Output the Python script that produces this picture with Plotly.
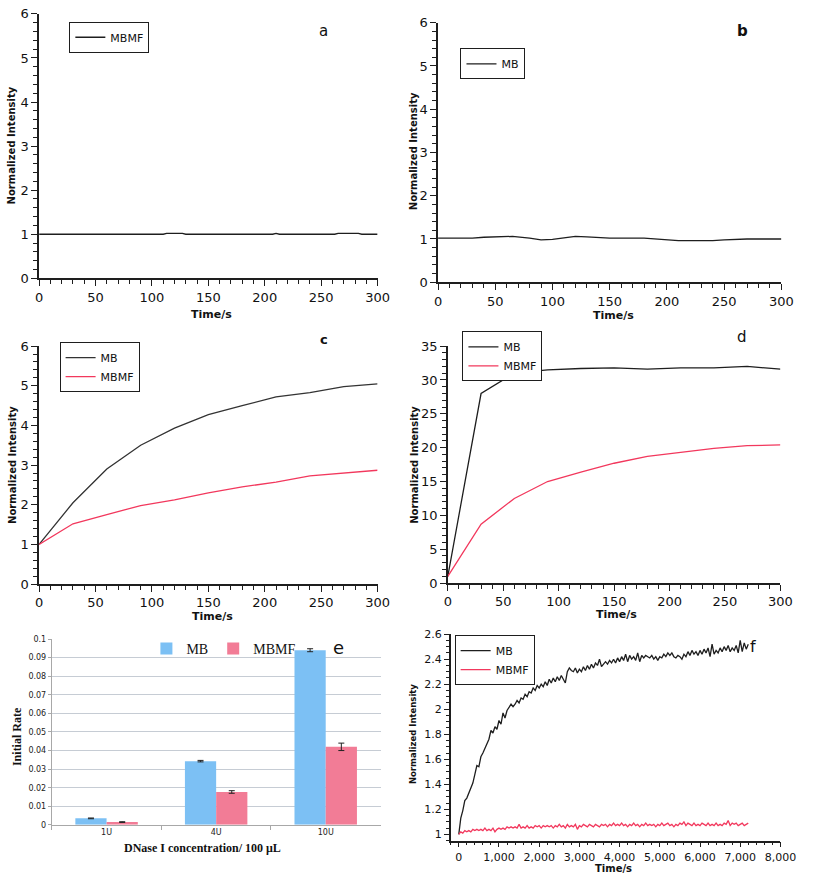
import plotly.graph_objects as go

W, H = 813, 883

# ---------------- data ----------------
# panel a
time_a = [0, 30, 60, 90, 110, 113, 127, 130, 160, 190, 207, 210, 213, 240, 262, 265, 283, 286, 300]
mbmf_a = [1.0, 1.0, 1.0, 1.0, 1.0, 1.02, 1.02, 1.0, 1.0, 1.0, 1.0, 1.02, 1.0, 1.0, 1.0, 1.02, 1.02, 1.0, 1.0]

# panel b
time_b = [0, 30, 40, 55, 65, 80, 90, 100, 110, 120, 130, 150, 180, 190, 200, 210, 240, 250, 270, 300]
mb_b = [1.02, 1.02, 1.04, 1.06, 1.06, 1.02, 0.98, 0.99, 1.02, 1.06, 1.05, 1.02, 1.02, 1.0, 0.98, 0.96, 0.96, 0.98, 1.0, 1.0]

# panel c
time_c = [0, 30, 60, 90, 120, 150, 180, 210, 240, 270, 300]
mb_c = [1.0, 2.05, 2.9, 3.5, 3.93, 4.27, 4.5, 4.72, 4.83, 4.98, 5.05]
mbmf_c = [1.0, 1.52, 1.75, 1.98, 2.12, 2.3, 2.45, 2.57, 2.73, 2.8, 2.87]

# panel d
time_d = [0, 30, 60, 90, 120, 150, 180, 210, 240, 270, 300]
mb_d = [1.0, 28.0, 31.0, 31.5, 31.7, 31.8, 31.6, 31.8, 31.8, 32.0, 31.6]
mbmf_d = [1.0, 8.7, 12.5, 15.0, 16.4, 17.7, 18.7, 19.3, 19.9, 20.3, 20.4]

# panel e
conc_e = ["1U", "4U", "10U"]
mb_e = [0.0035, 0.0343, 0.094]
mb_e_err = [0.0002, 0.0004, 0.0008]
mbmf_e = [0.0015, 0.0177, 0.042]
mbmf_e_err = [0.0002, 0.0007, 0.002]

# panel f (sampled every 50 s)
step_f = 50
mb_f = [
    1.00, 1.13, 1.19, 1.27, 1.29, 1.33, 1.37, 1.41, 1.48, 1.55,
    1.54, 1.62, 1.65, 1.69, 1.72, 1.76, 1.83, 1.81, 1.86, 1.84,
    1.91, 1.88, 1.97, 1.93, 1.99, 2.02, 2.04, 2.02, 2.04, 2.07,
    2.05, 2.09, 2.08, 2.12, 2.10, 2.14, 2.13, 2.17, 2.15, 2.19,
    2.17, 2.20, 2.18, 2.22, 2.19, 2.24, 2.21, 2.25, 2.22, 2.26,
    2.23, 2.27, 2.24, 2.21, 2.30, 2.33, 2.31, 2.30, 2.33, 2.29,
    2.32, 2.30, 2.34, 2.31, 2.35, 2.32, 2.36, 2.33, 2.37, 2.35,
    2.40, 2.34, 2.36, 2.38, 2.36, 2.39, 2.37, 2.40, 2.37, 2.41,
    2.38, 2.42, 2.39, 2.44, 2.38, 2.43, 2.40, 2.42, 2.39, 2.45,
    2.38, 2.43, 2.41, 2.43, 2.42, 2.41, 2.43, 2.40, 2.42, 2.39,
    2.42, 2.41, 2.44, 2.42, 2.45, 2.43, 2.45, 2.42, 2.41, 2.43,
    2.42, 2.40, 2.44, 2.42, 2.46, 2.43, 2.47, 2.44, 2.46, 2.43,
    2.47, 2.44, 2.48, 2.45, 2.49, 2.42, 2.52, 2.44, 2.47, 2.45,
    2.49, 2.46, 2.50, 2.47, 2.51, 2.46, 2.49, 2.47, 2.51, 2.45,
    2.55, 2.46, 2.53, 2.48, 2.52,
]
mbmf_f = [
    1.00, 1.02, 1.01, 1.03, 1.02, 1.03, 1.02, 1.04, 1.03, 1.04,
    1.03, 1.04, 1.03, 1.05, 1.03, 1.04, 1.03, 1.05, 1.02, 1.04,
    1.05, 1.04, 1.05, 1.04, 1.06, 1.05, 1.06, 1.05, 1.06, 1.05,
    1.08, 1.05, 1.06, 1.05, 1.07, 1.05, 1.06, 1.05, 1.07, 1.06,
    1.07, 1.05, 1.07, 1.06, 1.07, 1.06, 1.07, 1.05, 1.07, 1.06,
    1.08, 1.06, 1.07, 1.05, 1.08, 1.06, 1.07, 1.06, 1.08, 1.04,
    1.07, 1.06, 1.08, 1.07, 1.06, 1.08, 1.07, 1.06, 1.08, 1.07,
    1.06, 1.08, 1.07, 1.08, 1.06, 1.08, 1.07, 1.09, 1.07, 1.08,
    1.07, 1.09, 1.07, 1.08, 1.06, 1.08, 1.07, 1.09, 1.07, 1.08,
    1.06, 1.08, 1.07, 1.09, 1.07, 1.08, 1.07, 1.08, 1.06, 1.08,
    1.07, 1.09, 1.07, 1.08, 1.09, 1.07, 1.08, 1.06, 1.08, 1.07,
    1.09, 1.08, 1.10, 1.07, 1.09, 1.08, 1.07, 1.09, 1.07, 1.08,
    1.07, 1.09, 1.08, 1.07, 1.09, 1.07, 1.08, 1.07, 1.09, 1.07,
    1.08, 1.07, 1.09, 1.08, 1.11, 1.07, 1.09, 1.08, 1.09, 1.07,
    1.08, 1.09, 1.07, 1.08, 1.09,
]
time_f_mb = [i * step_f for i in range(len(mb_f))]
time_f_mbmf = [i * step_f for i in range(len(mbmf_f))]

# ---------------- styling ----------------
BLACK = "#1e1e1e"
RED = "#f2385d"
TICKFONT = dict(family="DejaVu Sans", size=13, color="#111")
NOGRID = "rgba(0,0,0,0)"


def px(x):
    return x / W


def py(y):
    return 1 - y / H


fig = go.Figure()


def line(x, y, color, name, xa, ya, legend):
    fig.add_trace(go.Scatter(x=x, y=y, mode="lines", name=name,
                             line=dict(color=color, width=1.3),
                             xaxis=xa, yaxis=ya, legend=legend))


line(time_a, mbmf_a, BLACK, "MBMF", "x", "y", "legend")
line(time_b, mb_b, BLACK, "MB", "x2", "y2", "legend2")
line(time_c, mb_c, "#333333", "MB", "x3", "y3", "legend3")
line(time_c, mbmf_c, RED, "MBMF", "x3", "y3", "legend3")
line(time_d, mb_d, BLACK, "MB", "x4", "y4", "legend4")
line(time_d, mbmf_d, RED, "MBMF", "x4", "y4", "legend4")
line(time_f_mb, mb_f, BLACK, "MB", "x6", "y6", "legend6")
line(time_f_mbmf, mbmf_f, RED, "MBMF", "x6", "y6", "legend6")

fig.add_trace(go.Bar(x=conc_e, y=mb_e, name="MB", marker=dict(color="#7cc0f4", line=dict(width=0)),
                     error_y=dict(type="data", array=mb_e_err, color="#222", thickness=1, width=3),
                     xaxis="x5", yaxis="y5", legend="legend5"))
fig.add_trace(go.Bar(x=conc_e, y=mbmf_e, name="MBMF", marker=dict(color="#f27c96", line=dict(width=0)),
                     error_y=dict(type="data", array=mbmf_e_err, color="#222", thickness=1, width=3),
                     xaxis="x5", yaxis="y5", legend="legend5"))


def lin_axis(domain, rng, dtick, minor_dtick, anchor, tickfont=TICKFONT, tickformat=None, tick0=None):
    d = dict(domain=domain, range=rng, dtick=dtick,
             showline=True, linecolor=BLACK,
             linewidth=1.5, ticks="outside", ticklen=6, tickwidth=1.3, tickcolor=BLACK,
             showgrid=True, gridcolor=NOGRID, zeroline=False, tickfont=tickfont, anchor=anchor,
             minor=dict(ticks="outside", ticklen=4, tickwidth=1, tickcolor=BLACK, dtick=minor_dtick))
    if tick0 is not None:
        d["tick0"] = tick0
    if tickformat:
        d["tickformat"] = tickformat
    return d


lay = {}
# a
lay["xaxis"] = lin_axis([px(36), px(383)], [0, 300], 50, 10, "y")
lay["yaxis"] = lin_axis([py(276), py(7)], [0, 6], 1, 0.2, "x")
# b
lay["xaxis2"] = lin_axis([px(445), px(797)], [0, 300], 50, 10, "y2")
lay["yaxis2"] = lin_axis([py(280), py(16)], [0, 6], 1, 0.2, "x2")
# c
lay["xaxis3"] = lin_axis([px(36), px(383)], [0, 300], 50, 10, "y3")
lay["yaxis3"] = lin_axis([py(587), py(345)], [0, 6], 1, 0.2, "x3")
# d
lay["xaxis4"] = lin_axis([px(455), px(796)], [0, 300], 50, 10, "y4")
lay["yaxis4"] = lin_axis([py(586), py(345)], [0, 35], 5, 1, "x4")
# f
ftick = dict(family="DejaVu Sans", size=11, color="#111")
lay["xaxis6"] = lin_axis([px(458), px(796)], [-200, 8000], 1000, 200, "y6", tickfont=ftick, tickformat=",d")
lay["yaxis6"] = lin_axis([py(848), py(638)], [0.95, 2.6], 0.2, 0.05, "x6", tickfont=ftick, tick0=1.0)
lay["xaxis6"]["ticklen"] = 5
lay["yaxis6"]["ticklen"] = 5
lay["xaxis6"]["minor"]["ticklen"] = 3
lay["yaxis6"]["minor"]["ticklen"] = 3

# e (bar chart)
lay["xaxis5"] = dict(domain=[px(49), px(386)], anchor="y5", type="category", showline=True,
                     linecolor="#a8a8a8", linewidth=1, ticks="outside", tickson="boundaries",
                     ticklen=4, tickcolor="#a8a8a8", showgrid=False, zeroline=False,
                     tickfont=dict(family="DejaVu Sans", size=8, color="#222"))
lay["yaxis5"] = dict(domain=[py(832), py(643)], anchor="x5", range=[0, 0.1], dtick=0.01,
                     showline=True, linecolor="#a8a8a8", linewidth=1, ticks="outside", ticklen=3,
                     tickcolor="#a8a8a8", showgrid=True, gridcolor="#c6ccd4", gridwidth=1,
                     zeroline=False, tickfont=dict(family="DejaVu Sans", size=8, color="#222"))


def legend(x, y):
    return dict(x=px(x), y=py(y), xanchor="left", yanchor="top", bgcolor="white",
                bordercolor=BLACK, borderwidth=1, font=dict(family="DejaVu Sans", size=11, color="#111"),
                tracegroupgap=0, itemwidth=30)


lay["legend"] = legend(67, 15)
lay["legend2"] = legend(468, 42)
lay["legend3"] = legend(57, 341)
lay["legend4"] = legend(470, 330)
lay["legend6"] = legend(462, 639)
lay["legend5"] = dict(x=px(146), y=py(653), xanchor="left", yanchor="middle", orientation="h",
                      bgcolor="rgba(0,0,0,0)", borderwidth=0, itemwidth=30,
                      font=dict(family="Liberation Serif", size=14, color="#111"))

fig.update_layout(**lay)

annots = []


def ann(text, x, y, font, angle=0):
    annots.append(dict(text=text, x=px(x), y=py(y), xref="paper", yref="paper", showarrow=False,
                       xanchor="center", yanchor="middle", textangle=angle, font=font))


bold = dict(family="DejaVu Sans", size=10, color="#111", weight="bold")
bold_t = dict(family="DejaVu Sans", size=11, color="#111", weight="bold")
ann("Normalized Intensity", 8, 141, bold, -90)
ann("Normalized Intensity", 420, 147, bold, -90)
ann("Normalized Intensity", 8, 466, bold, -90)
ann("Normalized Intensity", 420, 466, bold, -90)
ann("Normalized Intensity", 420, 740, dict(bold, size=8.5), -90)
ann("Time/s", 213, 313, bold_t)
ann("Time/s", 625, 314, bold_t)
ann("Time/s", 214, 620, bold_t)
ann("Time/s", 628, 618, bold_t)
ann("Time/s", 625, 876, dict(bold_t, size=10))
serif_b = dict(family="Liberation Serif", size=12, color="#111", weight="bold")
ann("Initial Rate", 14, 742, serif_b, -90)
ann("DNase I concentration/ 100 μL", 204, 856, serif_b)
letter = dict(family="DejaVu Sans", size=15, color="#111")
ann("a", 328, 24, letter)
ann("b", 757, 24, dict(letter, weight="bold"))
ann("c", 328, 338, dict(letter, weight="bold", size=13))
ann("d", 757, 336, letter)
ann("e", 343, 652, dict(letter, size=18))
ann("f", 768, 651, dict(letter, size=16))

fig.update_layout(annotations=annots, width=W, height=H, margin=dict(l=0, r=0, t=0, b=0),
                  paper_bgcolor="white", plot_bgcolor="white", bargap=0.43, bargroupgap=0,
                  barmode="group", showlegend=True)

fig.write_html("out.html")
